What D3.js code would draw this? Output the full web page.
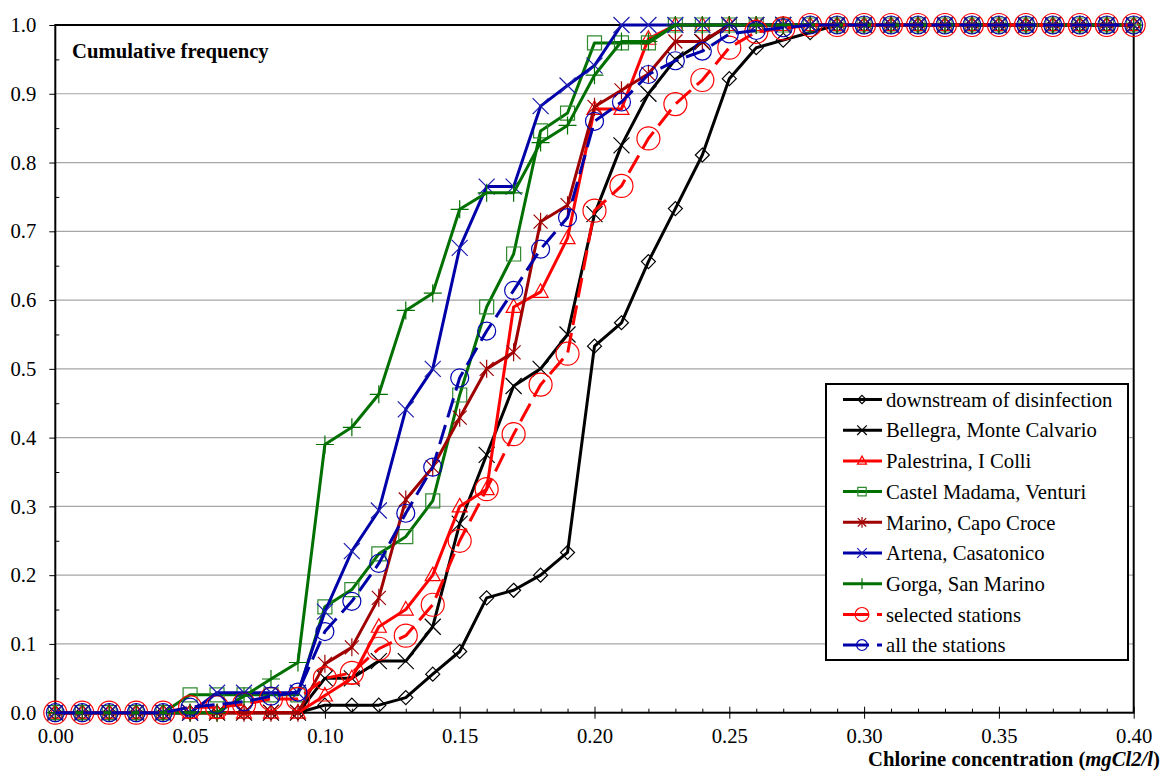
<!DOCTYPE html>
<html>
<head>
<meta charset="utf-8">
<script src="https://cdn.jsdelivr.net/npm/d3@7"></script>
<style>
  html, body { margin: 0; padding: 0; background: #fff; }
  svg { display: block; }
  svg text { font-family: 'Liberation Serif', 'Times New Roman', Times, 'DejaVu Serif', serif !important; }
</style>
</head>
<body>
<svg id="chart" width="1162" height="771"></svg>
<script>
// ---- data ----
const concentration = [0.00,0.01,0.02,0.03,0.04,0.05,0.06,0.07,0.08,0.09,
  0.10,0.11,0.12,0.13,0.14,0.15,0.16,0.17,0.18,0.19,
  0.20,0.21,0.22,0.23,0.24,0.25,0.26,0.27,0.28,0.29,
  0.30,0.31,0.32,0.33,0.34,0.35,0.36,0.37,0.38,0.39,0.40];

const downstream = [0,0,0,0,0,0,0,0,0,0,
  0.011,0.011,0.011,0.022,0.056,0.089,0.167,0.178,0.200,0.233,
  0.533,0.567,0.656,0.733,0.811,0.922,0.967,0.978,0.989,1,
  1,1,1,1,1,1,1,1,1,1,1];
const bellegra = [0,0,0,0,0,0,0,0,0,0,
  0.050,0.050,0.075,0.075,0.125,0.275,0.375,0.475,0.500,0.550,
  0.725,0.825,0.900,0.950,0.975,1,1,1,1,1,
  1,1,1,1,1,1,1,1,1,1,1];
const palestrina = [0,0,0,0,0,0,0,0,0,0,
  0.025,0.050,0.125,0.150,0.200,0.300,0.325,0.590,0.612,0.690,
  0.878,0.878,0.980,1,1,1,1,1,1,1,
  1,1,1,1,1,1,1,1,1,1,1];
const castelMadama = [0,0,0,0,0,0.026,0.026,0.026,0.026,0.026,
  0.154,0.179,0.231,0.256,0.308,0.462,0.590,0.667,0.846,0.872,
  0.974,0.974,0.974,1,1,1,1,1,1,1,
  1,1,1,1,1,1,1,1,1,1,1];
const marino = [0,0,0,0,0,0,0,0,0,0,
  0.071,0.095,0.167,0.310,0.357,0.429,0.500,0.524,0.714,0.738,
  0.881,0.905,0.929,0.976,0.976,1,1,1,1,1,
  1,1,1,1,1,1,1,1,1,1,1];
const artena = [0,0,0,0,0,0,0.029,0.029,0.029,0.029,
  0.147,0.235,0.294,0.441,0.500,0.676,0.765,0.765,0.882,0.912,
  0.941,1,1,1,1,1,1,1,1,1,
  1,1,1,1,1,1,1,1,1,1,1];
const gorga = [0,0,0,0,0,0,0,0.024,0.049,0.073,
  0.390,0.415,0.463,0.585,0.610,0.732,0.756,0.756,0.829,0.854,
  0.927,0.976,0.976,1,1,1,1,1,1,1,
  1,1,1,1,1,1,1,1,1,1,1];
const selectedStations = [0,0,0,0,0,0.008,0.008,0.012,0.020,0.020,
  0.050,0.058,0.093,0.112,0.157,0.250,0.325,0.405,0.477,0.522,
  0.730,0.766,0.835,0.885,0.920,0.967,0.990,0.995,1,1,
  1,1,1,1,1,1,1,1,1,1,1];
const allStations = [0,0,0,0,0,0.008,0.012,0.016,0.024,0.030,
  0.118,0.162,0.217,0.290,0.357,0.487,0.555,0.614,0.674,0.720,
  0.860,0.888,0.928,0.948,0.962,0.987,0.992,0.996,1,1,
  1,1,1,1,1,1,1,1,1,1,1];

const seriesNames = ["downstream of disinfection","Bellegra, Monte Calvario","Palestrina, I Colli",
  "Castel Madama, Venturi","Marino, Capo Croce","Artena, Casatonico","Gorga, San Marino",
  "selected stations","all the stations"];
const seriesValues = [downstream, bellegra, palestrina, castelMadama, marino, artena, gorga, selectedStations, allStations];

const yTicks = [0,0.1,0.2,0.3,0.4,0.5,0.6,0.7,0.8,0.9,1.0];
const xTicks = [0,0.05,0.10,0.15,0.20,0.25,0.30,0.35,0.40];

// ---- styles ----
const styles = [
  {color:"#000000", mcolor:"#000000", marker:"diamond", dash:null},
  {color:"#000000", mcolor:"#000000", marker:"x", dash:null},
  {color:"#ff0000", mcolor:"#ff0000", marker:"triangle", dash:null},
  {color:"#007000", mcolor:"#2f8a2f", marker:"square", dash:null},
  {color:"#a00000", mcolor:"#a00000", marker:"asterisk", dash:null},
  {color:"#0000a8", mcolor:"#1c1cb0", marker:"x", dash:null},
  {color:"#007000", mcolor:"#007000", marker:"plus", dash:null},
  {color:"#ff0000", mcolor:"#ff0000", marker:"circleBig", dash:"20,8"},
  {color:"#0000a8", mcolor:"#0000b0", marker:"circle", dash:"20,8"}
];

function markerPath(type, k) {
  switch (type) {
    case "diamond": return `M0,${-7*k}L${7*k},0L0,${7*k}L${-7*k},0Z`;
    case "x": return `M${-8*k},${-8*k}L${8*k},${8*k}M${-8*k},${8*k}L${8*k},${-8*k}`;
    case "triangle": return `M0,${-8*k}L${7.5*k},${5.5*k}L${-7.5*k},${5.5*k}Z`;
    case "square": return `M${-7*k},${-7*k}H${7*k}V${7*k}H${-7*k}Z`;
    case "asterisk": return `M${-7*k},${-7*k}L${7*k},${7*k}M${-7*k},${7*k}L${7*k},${-7*k}M0,${-9*k}L0,${9*k}`;
    case "plus": return `M${-9*k},0L${9*k},0M0,${-9*k}L0,${9*k}`;
    case "circleBig": { const r = 11.5*k; return `M${r},0A${r},${r} 0 1,1 ${-r},0A${r},${r} 0 1,1 ${r},0Z`; }
    case "circle": { const r = 9*k; return `M${r},0A${r},${r} 0 1,1 ${-r},0A${r},${r} 0 1,1 ${r},0Z`; }
  }
}

// ---- layout ----
const FONT = "'Liberation Serif', 'Times New Roman', serif";
const FS = 20.7;
const svg = d3.select("#chart");
const L = 55.3, R = 1133.7, T = 25, B = 712.7;
const x = d3.scaleLinear().domain([0, 0.4]).range([L, R]);
const y = d3.scaleLinear().domain([0, 1]).range([B, T]);

// gridlines
svg.append("g").selectAll("line").data(yTicks.filter(v => v > 0 && v < 1)).join("line")
  .attr("x1", L).attr("x2", R).attr("y1", d => y(d)).attr("y2", d => y(d))
  .attr("stroke", "#a6a6a6").attr("stroke-width", 1.2);

// y axis
const yAxis = svg.append("g").attr("transform", `translate(${L},0)`)
  .call(d3.axisLeft(y).tickValues(yTicks).tickFormat(d3.format(".1f")).tickSize(6).tickPadding(13));
yAxis.attr("font-family", null);
yAxis.select(".domain").remove();
yAxis.selectAll("text").attr("font-size", FS).style("font-family", FONT).attr("fill", "#000");
yAxis.selectAll("line").attr("stroke", "#000").attr("stroke-width", 1);
// y minor ticks (inside)
svg.append("g").attr("transform", `translate(${L},0)`)
  .call(d3.axisLeft(y).tickValues(d3.range(0.05, 1, 0.1)).tickFormat("").tickSize(-4))
  .call(g => g.select(".domain").remove())
  .selectAll("line").attr("stroke", "#000");

// x axis
const xAxis = svg.append("g").attr("transform", `translate(0,${B})`)
  .call(d3.axisBottom(x).tickValues(xTicks).tickFormat(d3.format(".2f")).tickSize(6).tickPadding(10));
xAxis.attr("font-family", null);
xAxis.select(".domain").remove();
xAxis.selectAll("text").attr("font-size", FS).style("font-family", FONT).attr("fill", "#000");
xAxis.selectAll("line").attr("stroke", "#000");
svg.append("g").attr("transform", `translate(0,${B})`)
  .call(d3.axisBottom(x).tickValues(xTicks).tickFormat("").tickSize(-6))
  .call(g => g.select(".domain").remove())
  .selectAll("line").attr("stroke", "#000");
svg.append("g").attr("transform", `translate(0,${B})`)
  .call(d3.axisBottom(x).tickValues(concentration.filter((v, i) => i % 5 !== 0)).tickFormat("").tickSize(-4))
  .call(g => g.select(".domain").remove())
  .selectAll("line").attr("stroke", "#000");

// frame
svg.append("rect").attr("x", L).attr("y", T).attr("width", R - L).attr("height", B - T)
  .attr("fill", "none").attr("stroke", "#000").attr("stroke-width", 2);

// series
const line = d3.line().x((d, i) => x(concentration[i])).y(d => y(d));
const plot = svg.append("g");
seriesValues.forEach((vals, si) => {
  const st = styles[si];
  const g = plot.append("g");
  g.append("path").attr("d", line(vals)).attr("fill", "none")
    .attr("stroke", st.color).attr("stroke-width", 3).attr("stroke-linejoin", "round")
    .attr("stroke-dasharray", st.dash);
  g.selectAll("path.m").data(vals).join("path").attr("class", "m")
    .attr("transform", (d, i) => `translate(${x(concentration[i])},${y(d)})`)
    .attr("d", markerPath(st.marker, 1))
    .attr("fill", "none").attr("stroke", st.mcolor).attr("stroke-width", 1.2);
});

// title labels
svg.append("text").attr("x", 72).attr("y", 58).attr("font-size", FS).attr("font-weight", "bold")
  .style("font-family", FONT).text("Cumulative frequency");

const xt = svg.append("text").attr("x", 1160).attr("y", 766).attr("text-anchor", "end")
  .attr("font-size", FS).attr("font-weight", "bold").style("font-family", FONT);
xt.append("tspan").text("Chlorine concentration (");
xt.append("tspan").attr("font-style", "italic").text("mgCl2/l");
xt.append("tspan").text(")");

// legend
const lg = svg.append("g");
lg.append("rect").attr("x", 826).attr("y", 384).attr("width", 302).attr("height", 276)
  .attr("fill", "#fff").attr("stroke", "#000").attr("stroke-width", 2);
seriesNames.forEach((name, i) => {
  const st = styles[i];
  const cy = 399.5 + i * 30.7;
  lg.append("line").attr("x1", 843).attr("x2", 882).attr("y1", cy).attr("y2", cy)
    .attr("stroke", st.color).attr("stroke-width", 3)
    .attr("stroke-dasharray", st.dash ? "26,8" : null);
  lg.append("path").attr("transform", `translate(862,${cy})`)
    .attr("d", markerPath(st.marker, 0.6))
    .attr("fill", "none").attr("stroke", st.mcolor).attr("stroke-width", 1.2);
  lg.append("text").attr("x", 886).attr("y", cy).attr("dy", "0.35em")
    .attr("font-size", FS).style("font-family", FONT).text(name);
});
</script>
</body>
</html>
